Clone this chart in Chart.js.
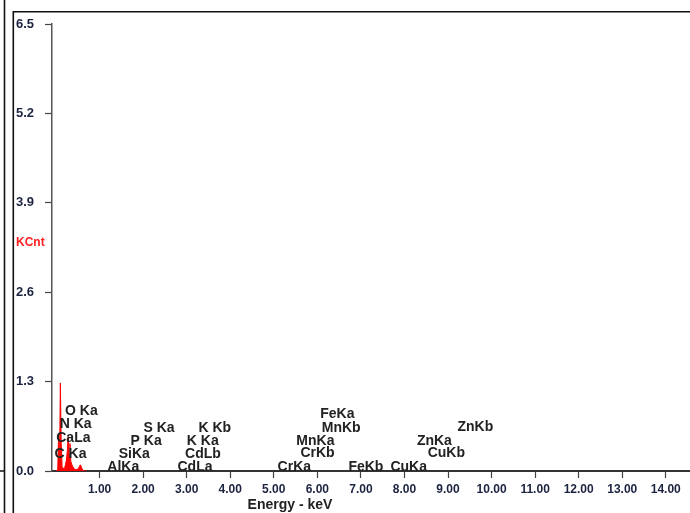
<!DOCTYPE html>
<html>
<head>
<meta charset="utf-8">
<script src="https://cdn.jsdelivr.net/npm/chart.js@4/dist/chart.umd.min.js"></script>
<style>
  html, body { margin: 0; padding: 0; background: #fff; }
  #wrap { width: 690px; height: 513px; position: relative; }
</style>
</head>
<body>
<div id="wrap"><canvas id="c" width="690" height="513"></canvas></div>
<script>
// EDS spectrum: channel energy (keV) and counts (KCnt)
const energy = [0.00, 0.02, 0.04, 0.06, 0.08, 0.10, 0.12, 0.14, 0.16, 0.18,
                0.20, 0.22, 0.24, 0.26, 0.28, 0.30, 0.32, 0.34, 0.36, 0.38,
                0.40, 0.42, 0.44, 0.46, 0.48, 0.50, 0.52, 0.54, 0.56, 0.58,
                0.60, 0.62, 0.64, 0.66, 0.70];
const counts = [0.00, 0.00, 0.01, 0.55, 0.06, 1.28, 0.40, 0.05, 0.02, 0.03,
                0.05, 0.10, 0.16, 0.30, 0.50, 0.22, 0.40, 0.14, 0.10, 0.07,
                0.05, 0.03, 0.02, 0.02, 0.02, 0.03, 0.04, 0.07, 0.09, 0.06,
                0.03, 0.01, 0.00, 0.00, 0.00];

// Axis ticks
const xTicks = [1, 2, 3, 4, 5, 6, 7, 8, 9, 10, 11, 12, 13, 14];
const yTicks = [0, 1.3, 2.6, 3.9, 5.2, 6.5];

// Identified X-ray lines: name, line energy (keV), label height (KCnt)
const lineNames    = ['C Ka', 'CaLa', 'N Ka', 'O Ka', 'AlKa', 'SiKa', 'P Ka', 'S Ka',
                      'CdLa', 'CdLb', 'K Ka', 'K Kb', 'CrKa', 'CrKb', 'MnKa', 'MnKb',
                      'FeKa', 'FeKb', 'CuKa', 'CuKb', 'ZnKa', 'ZnKb'];
const lineEnergies = [0.277, 0.341, 0.392, 0.525, 1.486, 1.740, 2.013, 2.307,
                      3.133, 3.316, 3.313, 3.589, 5.414, 5.946, 5.898, 6.490,
                      6.403, 7.057, 8.040, 8.904, 8.630, 9.571];
const lineLevels   = [0.247, 0.475, 0.683, 0.865, 0.063, 0.247, 0.436, 0.625,
                      0.058, 0.247, 0.436, 0.625, 0.058, 0.257, 0.436, 0.630,
                      0.824, 0.058, 0.058, 0.260, 0.436, 0.635];

const FONT = '"Liberation Sans", Arial, sans-serif';
const TICK_COLOR = '#1c2340';

const panelFrame = {
  id: 'panelFrame',
  beforeDraw(chart) {
    const ctx = chart.ctx;
    ctx.save();
    ctx.fillStyle = '#fff';
    ctx.fillRect(0, 0, chart.width, chart.height);
    ctx.strokeStyle = '#111';
    ctx.lineWidth = 1.6;
    ctx.beginPath();
    // neighbouring panel edge and its baseline tick
    ctx.moveTo(4.5, 0); ctx.lineTo(4.5, chart.height);
    ctx.moveTo(0, 471); ctx.lineTo(5, 471);
    // plot panel border
    ctx.moveTo(13.3, chart.height); ctx.lineTo(13.3, 11.8); ctx.lineTo(chart.width, 11.8);
    ctx.stroke();
    ctx.restore();
  },
  afterDraw(chart) {
    const ctx = chart.ctx;
    const xs = chart.scales.x, ys = chart.scales.y;
    const area = chart.chartArea;
    ctx.save();
    // line labels
    ctx.beginPath();
    ctx.rect(area.left, 0, area.right - area.left, area.bottom);
    ctx.clip();
    ctx.font = 'bold 14px ' + FONT;
    ctx.fillStyle = '#222';
    ctx.textAlign = 'center';
    ctx.textBaseline = 'middle';
    lineNames.forEach((name, i) => {
      const px = xs.getPixelForValue(lineEnergies[i]) + 2.5;
      const py = ys.getPixelForValue(lineLevels[i]);
      ctx.fillText(name, px, py);
    });
    ctx.restore();

    ctx.save();
    // count axis caption
    ctx.font = 'bold 12px ' + FONT;
    ctx.fillStyle = '#ff2020';
    ctx.textAlign = 'left';
    ctx.textBaseline = 'middle';
    ctx.fillText('KCnt', 16, area.top + (area.bottom - area.top) * 0.49);
    // energy axis caption
    ctx.font = 'bold 14px ' + FONT;
    ctx.fillStyle = '#222';
    ctx.textAlign = 'center';
    ctx.fillText('Energy - keV', xs.left + (xs.right - xs.left) * 0.373, 505);
    ctx.restore();
  }
};

new Chart(document.getElementById('c'), {
  type: 'scatter',
  data: {
    datasets: [{
      data: energy.map((e, i) => ({ x: e, y: counts[i] })),
      showLine: true,
      borderColor: '#ff0000',
      backgroundColor: '#ff0000',
      borderWidth: 1,
      pointRadius: 0,
      fill: 'origin',
      tension: 0
    }]
  },
  options: {
    responsive: false,
    animation: false,
    devicePixelRatio: 1,
    layout: { padding: { left: 16, top: 24, right: 0, bottom: 0 } },
    plugins: { legend: { display: false }, tooltip: { enabled: false } },
    scales: {
      x: {
        type: 'linear',
        min: -0.092,
        max: 14.556,
        afterBuildTicks: s => { s.ticks = xTicks.map(v => ({ value: v })); },
        afterFit: s => { s.height = 42; },
        ticks: {
          callback: v => Number(v).toFixed(2),
          font: { family: FONT, size: 12, weight: 'bold' },
          color: TICK_COLOR,
          padding: 4,
          maxRotation: 0,
          autoSkip: false
        },
        grid: { drawOnChartArea: false, drawTicks: true, tickLength: 7, tickColor: '#444', tickWidth: 1.2 },
        border: { display: true, color: '#333', width: 2 }
      },
      y: {
        min: 0,
        max: 6.5,
        afterBuildTicks: s => { s.ticks = yTicks.map(v => ({ value: v })); },
        afterFit: s => { s.width = 36; },
        ticks: {
          callback: v => Number(v).toFixed(1),
          font: { family: FONT, size: 13, weight: 'bold' },
          color: TICK_COLOR,
          crossAlign: 'far',
          autoSkip: false
        },
        grid: { drawOnChartArea: false, drawTicks: true, tickLength: 7, tickColor: '#444', tickWidth: 1.2 },
        border: { display: true, color: '#555', width: 1.5 }
      }
    }
  },
  plugins: [panelFrame]
});
</script>
</body>
</html>
